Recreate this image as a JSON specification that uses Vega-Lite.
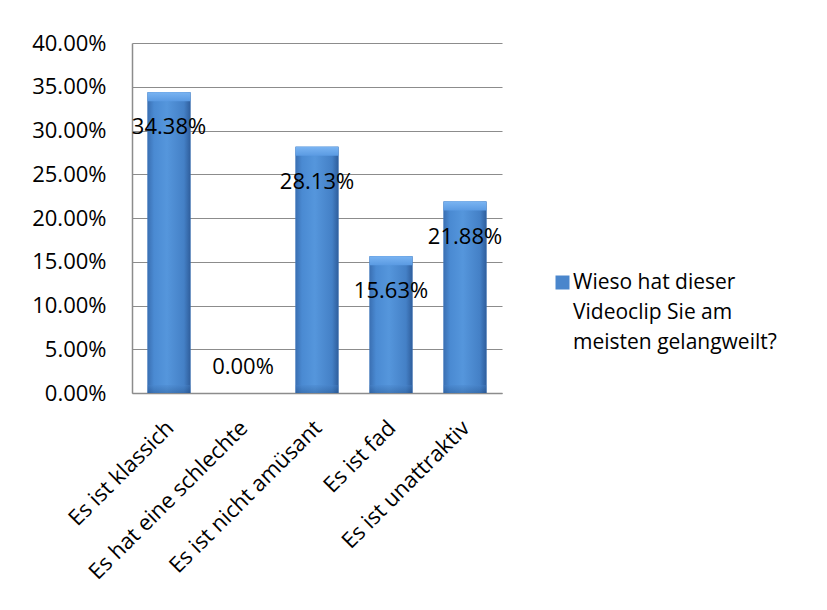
{
  "$schema": "https://vega.github.io/schema/vega-lite/v6.json",
  "width": 370,
  "height": 350,
  "autosize": {"type": "none"},
  "padding": {"left": 132, "top": 43, "right": 325, "bottom": 217},
  "background": "white",
  "config": {
    "font": "Open Sans",
    "view": {"stroke": null},
    "style": {"guide-label": {"lineHeight": 30}},
    "axis": {
      "labelFont": "Open Sans",
      "labelFontSize": 22,
      "labelColor": "#000000",
      "ticks": false,
      "domainColor": "#8c8c8c",
      "domainWidth": 1.5,
      "gridColor": "#8c8c8c",
      "gridWidth": 1.2,
      "title": null
    }
  },
  "data": {
    "values": [
      {"category": "Es ist klassich", "value": 0.3438, "series": "Wieso hat dieser Videoclip Sie am meisten gelangweilt?"},
      {"category": "Es hat eine schlechte", "value": 0.0, "series": "Wieso hat dieser Videoclip Sie am meisten gelangweilt?"},
      {"category": "Es ist nicht amüsant", "value": 0.2813, "series": "Wieso hat dieser Videoclip Sie am meisten gelangweilt?"},
      {"category": "Es ist fad", "value": 0.1563, "series": "Wieso hat dieser Videoclip Sie am meisten gelangweilt?"},
      {"category": "Es ist unattraktiv", "value": 0.2188, "series": "Wieso hat dieser Videoclip Sie am meisten gelangweilt?"}
    ]
  },
  "encoding": {
    "x": {
      "field": "category",
      "type": "nominal",
      "sort": null,
      "scale": {"paddingInner": 0.42, "paddingOuter": 0.21},
      "axis": {"labelAngle": -45, "labelPadding": 24, "labelOffset": -6, "grid": false, "labelLimit": 400}
    },
    "y": {
      "field": "value",
      "type": "quantitative",
      "scale": {"domain": [0, 0.4]},
      "axis": {
        "values": [0, 0.05, 0.1, 0.15, 0.2, 0.25, 0.3, 0.35, 0.4],
        "format": ".2%",
        "labelPadding": 26,
        "grid": true
      }
    }
  },
  "layer": [
    {
      "mark": {"type": "bar"},
      "encoding": {
        "color": {
          "field": "series",
          "type": "nominal",
          "scale": {"range": ["#4a86cc"]},
          "legend": {
            "orient": "none",
            "legendX": 420,
            "legendY": 229,
            "title": null,
            "padding": 0,
            "symbolType": "square",
            "symbolSize": 196,
            "symbolStrokeWidth": 0,
            "labelFont": "Open Sans",
            "labelFontSize": 21,
            "labelColor": "#000000",
            "labelLimit": 400,
            "labelOffset": 0,
            "labelExpr": "['Wieso hat dieser', 'Videoclip Sie am', 'meisten gelangweilt?']"
          }
        }
      }
    },
    {
      "mark": {
        "type": "bar",
        "fill": {
          "gradient": "linear",
          "x1": 0, "y1": 0, "x2": 1, "y2": 0,
          "stops": [
            {"offset": 0, "color": "#3a6fb2"},
            {"offset": 0.15, "color": "#4a8ad2"},
            {"offset": 0.45, "color": "#5596dc"},
            {"offset": 0.85, "color": "#4480c6"},
            {"offset": 1, "color": "#2f5e9c"}
          ]
        }
      }
    },
    {
      "mark": {
        "type": "bar",
        "y2Offset": -8,
        "opacity": 0.35,
        "fill": {
          "gradient": "linear",
          "x1": 0, "y1": 0, "x2": 0, "y2": 1,
          "stops": [
            {"offset": 0, "color": "#4a86cc"},
            {"offset": 1, "color": "#1f4a80"}
          ]
        }
      },
      "transform": [{"filter": "datum.value > 0"}],
      "encoding": {"y": {"datum": 0}, "y2": {"datum": 0}}
    },
    {
      "mark": {
        "type": "bar",
        "y2Offset": 9,
        "fill": {
          "gradient": "linear",
          "x1": 0, "y1": 0, "x2": 0, "y2": 1,
          "stops": [
            {"offset": 0, "color": "#7ab4f2"},
            {"offset": 1, "color": "#5a9ae2"}
          ]
        }
      },
      "transform": [{"filter": "datum.value > 0"}],
      "encoding": {"y2": {"field": "value"}}
    },
    {
      "mark": {"type": "text", "dy": 35, "baseline": "middle", "fontSize": 22, "font": "Open Sans", "color": "#000000"},
      "transform": [{"filter": "datum.value > 0"}],
      "encoding": {"text": {"field": "value", "type": "quantitative", "format": ".2%"}}
    },
    {
      "mark": {"type": "text", "dy": -26, "baseline": "middle", "fontSize": 22, "font": "Open Sans", "color": "#000000"},
      "transform": [{"filter": "datum.value == 0"}],
      "encoding": {"text": {"field": "value", "type": "quantitative", "format": ".2%"}}
    }
  ]
}
